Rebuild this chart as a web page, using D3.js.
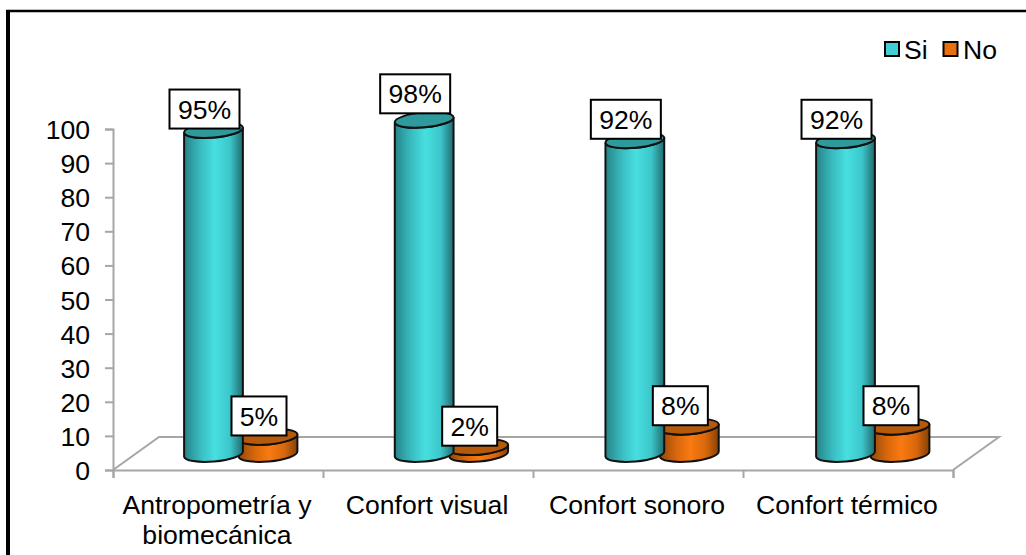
<!DOCTYPE html>
<html>
<head>
<meta charset="utf-8">
<script src="https://cdn.jsdelivr.net/npm/d3@7/dist/d3.min.js"></script>
<style>
html,body{margin:0;padding:0;background:#fff}
svg{display:block}
text{font-family:"Liberation Sans",Arial,sans-serif;fill:#000}
</style>
</head>
<body>
<svg id="chart" width="1026" height="555"></svg>
<script>
const categories = [["Antropometría y","biomecánica"],["Confort visual"],["Confort sonoro"],["Confort térmico"]];
const seriesNames = ["Si","No"];
const siValues = [95,98,92,92];
const noValues = [5,2,8,8];
const siLabels = ["95%","98%","92%","92%"];
const noLabels = ["5%","2%","8%","8%"];
const yTicks = [0,10,20,30,40,50,60,70,80,90,100];

const svg = d3.select("#chart");
const depth = {x:46, y:-33};
const fontTick = 26.6;

const x0 = d3.scaleBand().domain(d3.range(categories.length)).range([113,953]);
const xSeries = d3.scalePoint().domain(seriesNames).range([0,54.5]);
const y = d3.scaleLinear().domain([0,100]).range([470,129]);

const barShift = 100.5;       // first cylinder centre, from the band's left edge
const barDrift = 0.67;        // cylinders run slightly wider than the axis bands
const floorDrop = -16;        // cylinder base sits midway into the floor depth
const rx = 29.5, ry = 7.5, tilt = -5;
const barX = (i,s) => x0(i)+barShift+i*barDrift+xSeries(s);

// Cylinder shading
const defs = svg.append("defs");
const palette = {
  Si:{id:"gSi", stops:["#268488","#39bcc0","#47dfe0","#3cc6ca","#226a6d"], top:"#2f9a9c"},
  No:{id:"gNo", stops:["#94480a","#d8670c","#f97a10","#d8670c","#844006"], top:"#b45a0a"}
};
Object.values(palette).forEach(p=>{
  const g = defs.append("linearGradient").attr("id",p.id).attr("x1",0).attr("x2",1).attr("y1",0).attr("y2",0);
  g.selectAll("stop").data(p.stops).join("stop")
    .attr("offset",(d,i)=>[0,.28,.52,.78,1][i]).attr("stop-color",d=>d);
});

// Frame: only the top and left edges fall inside the page
svg.append("line").attr("x1",6).attr("x2",1026).attr("y1",11).attr("y2",11)
  .attr("stroke","#000").attr("stroke-width",2.5);
svg.append("line").attr("x1",8).attr("x2",8).attr("y1",10).attr("y2",555)
  .attr("stroke","#000").attr("stroke-width",4);

// Floor of the 3D box
const wall = "#a6a6a6";
const [fx0,fx1] = x0.range();
const yz = y(0);
svg.append("path").attr("fill","none").attr("stroke",wall).attr("stroke-width",2)
  .attr("d",d3.line()([[fx0,yz],[fx0+depth.x,yz+depth.y],[fx1+depth.x,yz+depth.y],[fx1,yz]]));

// Axes
const yAxis = d3.axisLeft(y).tickValues(yTicks).tickSize(8).tickPadding(15);
const gy = svg.append("g").attr("transform",`translate(${fx0},0)`).call(yAxis);
gy.selectAll("text").attr("font-size",fontTick).attr("font-family","Liberation Sans").attr("dy","0.36em");

const xAxis = d3.axisBottom(d3.scaleLinear().domain([0,categories.length]).range([fx0,fx1]))
  .tickValues(d3.range(categories.length+1)).tickSize(8).tickFormat("");
const gx = svg.append("g").attr("transform",`translate(0,${yz})`).call(xAxis);
[gy,gx].forEach(g=>{
  g.selectAll("path.domain").attr("stroke",wall).attr("stroke-width",2);
  g.selectAll("line").attr("stroke",wall).attr("stroke-width",2);
});

// Category labels
const catLabels = svg.append("g").attr("text-anchor","middle").attr("font-size",fontTick);
categories.forEach((lines,i)=>{
  lines.forEach((t,j)=>{
    catLabels.append("text")
      .attr("x",x0(i)+x0.bandwidth()/2-1)
      .attr("y",514+j*30).text(t);
  });
});

// Endpoint of a tilted ellipse's long axis, relative to its centre
function rim(sign){
  const a = tilt*Math.PI/180;
  return {dx:sign*rx*Math.cos(a), dy:sign*rx*Math.sin(a)};
}

function cylinder(g,cx,value,series){
  const yBot = yz+floorDrop;
  const yTop = yBot+y(value)-y(0);
  const p = palette[series];
  const L = rim(-1), R = rim(1);
  const body = `M${cx+L.dx},${yTop+L.dy}
    L${cx+L.dx},${yBot+L.dy}
    A${rx},${ry} ${tilt} 0 0 ${cx+R.dx},${yBot+R.dy}
    L${cx+R.dx},${yTop+R.dy}
    A${rx},${ry} ${tilt} 0 1 ${cx+L.dx},${yTop+L.dy}Z`;
  g.append("path").attr("d",body).attr("fill",`url(#${p.id})`)
    .attr("stroke","#111").attr("stroke-width",2);
  g.append("ellipse").attr("cx",cx).attr("cy",yTop).attr("rx",rx).attr("ry",ry)
    .attr("transform",`rotate(${tilt} ${cx} ${yTop})`)
    .attr("fill",p.top).attr("stroke","#111").attr("stroke-width",2);
}

const bars = svg.append("g");
categories.forEach((c,i)=>{
  const g = bars.append("g");
  cylinder(g,barX(i,"No"),noValues[i],"No");
  cylinder(g,barX(i,"Si"),siValues[i],"Si");
});

// Boxed value labels; the tallest cylinder's label is lifted clear of its top
function valueLabel(cx,bottom,text,w){
  const h = 39;
  const g = svg.append("g");
  g.append("rect").attr("x",cx-w/2).attr("y",bottom-h).attr("width",w).attr("height",h)
    .attr("fill","#fff").attr("stroke","#000").attr("stroke-width",2);
  g.append("text").attr("x",cx).attr("y",bottom-h/2).attr("dy","0.36em")
    .attr("text-anchor","middle").attr("font-size",fontTick).text(text);
}
categories.forEach((c,i)=>{
  const base = yz+floorDrop;
  const lift = siValues[i] > 97 ? 5 : 0;
  valueLabel(barX(i,"Si")-9, base+y(siValues[i])-y(0)-1.5-lift, siLabels[i], 70);
  valueLabel(barX(i,"No")-9, base+y(noValues[i])-y(0)-1.5, noLabels[i], 55);
});

// Legend
const lg = svg.append("g");
const legendItems = [{n:"Si",x:885,tx:904,c:"#40d0d4"},{n:"No",x:943.5,tx:963,c:"#e8700c"}];
legendItems.forEach(d=>{
  lg.append("rect").attr("x",d.x).attr("y",42).attr("width",14).attr("height",14)
    .attr("fill",d.c).attr("stroke","#000").attr("stroke-width",2);
  lg.append("text").attr("x",d.tx).attr("y",58.5).attr("font-size",fontTick).text(d.n);
});
</script>
</body>
</html>
